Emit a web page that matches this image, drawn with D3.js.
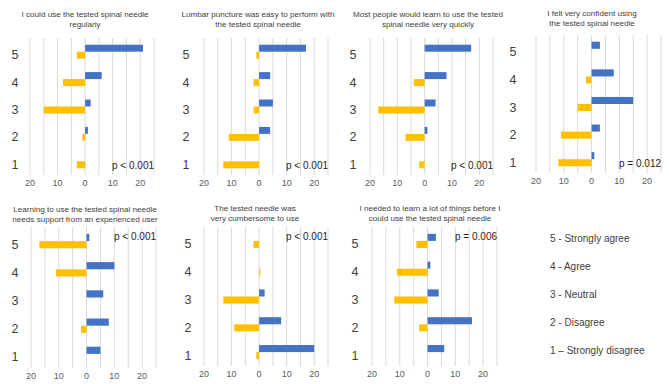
<!DOCTYPE html>
<html>
<head>
<meta charset="utf-8">
<script src="https://cdn.jsdelivr.net/npm/d3@7"></script>
<style>
  body { margin: 0; background: #fff; }
  text { font-family: "Liberation Sans", Arial, sans-serif; }
</style>
</head>
<body>
<div id="chart"></div>
<script>
const width = 669, height = 384;

const categories = [5, 4, 3, 2, 1];
const series = ["blue", "yellow"];
const ticks = [-20, -10, 0, 10, 20];

const titles = [
  ["I could use the tested spinal needle", "regularly"],
  ["Lumbar puncture was easy to perform  with", "the tested spinal needle"],
  ["Most people would learn to use the tested", "spinal needle very quickly"],
  ["I  felt very confident using", "the tested spinal needle"],
  ["Learning to use the tested spinal needle", "needs support from an experienced user"],
  ["The tested needle was", "very cumbersome to use"],
  ["I needed to learn a lot of things before I", "could use the tested spinal needle"]
];
// answers 5..1
const blueValues = [
  [21, 6, 2, 1, 0],
  [17, 4, 5, 4, 0],
  [17, 8, 4, 1, 0],
  [3, 8, 15, 3, 1],
  [1, 10, 6, 8, 5],
  [0, 0, 2, 8, 20],
  [3, 1, 4, 16, 6]
];
// plotted to the left of zero
const yellowValues = [
  [-3, -8, -15, -1, -3],
  [-1, -2, -2, -11, -13],
  [0, -4, -17, -7, -2],
  [0, -2, -5, -11, -12],
  [-17, -11, 0, -2, 0],
  [-2, 0.4, -13, -9, -1],
  [-4, -11, -12, -3, 0]
];
const pValues = ["p < 0.001", "p < 0.001", "p < 0.001", "p = 0.012", "p < 0.001", "p < 0.001", "p = 0.006"];
const legendLabels = ["5 - Strongly agree", "4 - Agree", "3 - Neutral", "2 - Disagree", "1 \u2013 Strongly disagree"];

// panel frames: x of -20 and 25, plot top/bottom, label column, title centre
const frames = [
  {x0: 30, x1: 154, top: 38, bottom: 175, lx: 15, tx: 85, ty: 17, pTop: false},
  {x0: 204, x1: 328, top: 38, bottom: 175, lx: 186, tx: 258, ty: 17, pTop: false},
  {x0: 370, x1: 493, top: 38, bottom: 175, lx: 353, tx: 428, ty: 17, pTop: false},
  {x0: 536, x1: 661, top: 35, bottom: 173, lx: 513, tx: 592, ty: 16, pTop: false},
  {x0: 31, x1: 156, top: 227, bottom: 368, lx: 15, tx: 85, ty: 212, pTop: true},
  {x0: 204, x1: 328, top: 227, bottom: 366, lx: 188, tx: 255, ty: 211, pTop: true},
  {x0: 372, x1: 497, top: 227, bottom: 366, lx: 355, tx: 430, ty: 211, pTop: true}
];

const color = d3.scaleOrdinal(series, ["#4472C4", "#FFC000"]);

const svg = d3.select("#chart").append("svg")
  .attr("width", width).attr("height", height)
  .attr("viewBox", [0, 0, width, height]);

frames.forEach((f, i) => {
  const g = svg.append("g");
  const x = d3.scaleLinear().domain([-20, 25]).range([f.x0, f.x1]);
  const y = d3.scaleBand(categories, [f.top, f.bottom]);
  const ySub = d3.scaleBand(series, [0, y.bandwidth()]).paddingOuter(0.96);

  // gridlines
  g.append("g").selectAll("line").data(d3.range(-20, 26, 5)).join("line")
    .attr("x1", d => x(d)).attr("x2", d => x(d))
    .attr("y1", f.top).attr("y2", f.bottom)
    .attr("stroke", "#D9D9D9").attr("stroke-width", 1);

  const rows = categories.map((c, k) => ({c, blue: blueValues[i][k], yellow: yellowValues[i][k]}));
  const bars = rows.flatMap(r => series.map(s => ({c: r.c, s, v: r[s]})));

  g.append("g").selectAll("rect").data(bars.filter(d => d.v !== 0)).join("rect")
    .attr("x", d => x(Math.min(0, d.v)))
    .attr("width", d => Math.abs(x(d.v) - x(0)))
    .attr("y", d => y(d.c) + ySub(d.s))
    .attr("height", ySub.bandwidth())
    .attr("fill", d => color(d.s));

  // tick labels
  g.append("g").selectAll("text").data(ticks).join("text")
    .attr("x", d => x(d)).attr("y", f.bottom + 11)
    .attr("text-anchor", "middle")
    .attr("font-size", 9).attr("fill", "#595959")
    .text(d => Math.abs(d));

  // category labels
  g.append("g").selectAll("text").data(categories).join("text")
    .attr("x", f.lx).attr("y", d => y(d) + y.bandwidth() / 2 + 7.5)
    .attr("text-anchor", "middle")
    .attr("font-size", 12.5).attr("fill", "#404040")
    .text(d => d);

  // title
  g.append("text").attr("x", f.tx).attr("y", f.ty)
    .attr("text-anchor", "middle").attr("font-size", 8.1).attr("fill", "#404040")
    .selectAll("tspan").data(titles[i]).join("tspan")
    .attr("x", f.tx).attr("dy", (d, j) => j ? 10 : 0)
    .text(d => d);

  g.append("text")
    .attr("x", f.x1).attr("y", f.pTop ? f.top + 13 : f.bottom - 6)
    .attr("text-anchor", "end").attr("font-size", 10).attr("fill", "#262626")
    .text(pValues[i]);
});

// legend
svg.append("g").selectAll("text").data(legendLabels).join("text")
  .attr("x", 550).attr("y", (d, k) => 242 + k * 28)
  .attr("font-size", 10).attr("fill", "#404040")
  .text(d => d);
</script>
</body>
</html>
